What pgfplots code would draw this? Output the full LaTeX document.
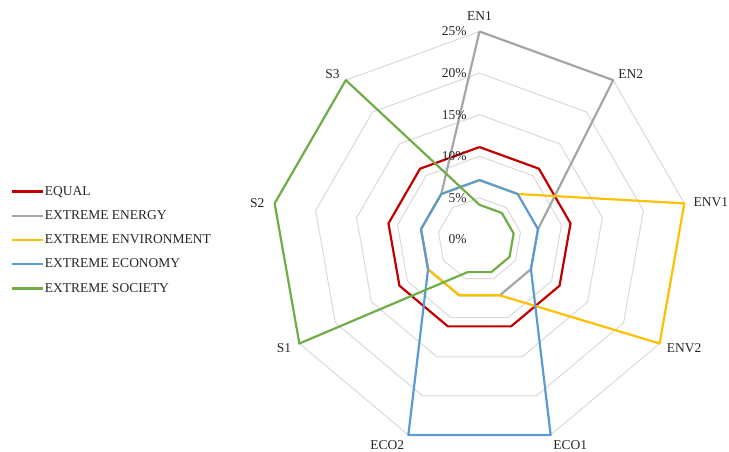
\documentclass[border=0pt]{standalone}
\usepackage{fontspec}
\setmainfont{Liberation Serif}
\usepackage{pgfplots}
\usepackage{pgfplotstable}
\pgfplotsset{compat=1.18}

\definecolor{cEqual}{HTML}{C00000}
\definecolor{cEnergy}{HTML}{A5A5A5}
\definecolor{cEnv}{HTML}{FFC000}
\definecolor{cEco}{HTML}{5B9BD5}
\definecolor{cSoc}{HTML}{70AD47}
\definecolor{cGrid}{HTML}{D9D9D9}
\definecolor{cText}{HTML}{262626}

% Criterion weights in percent, one row per radar axis (angle in degrees).
% The first axis is repeated at the end so that each polygon closes.
\pgfplotstableread{
ang   EQ     EN     ENV    ECO    SOC
90    11.11  25.00  7.14   7.14   4.17
50    11.11  25.00  7.14   7.14   4.17
10    11.11  7.14   25.00  7.14   4.17
-30   11.11  7.14   25.00  7.14   4.17
-70   11.11  7.14   7.14   25.00  4.17
-110  11.11  7.14   7.14   25.00  4.17
-150  11.11  7.14   7.14   7.14   25.00
-190  11.11  7.14   7.14   7.14   25.00
-230  11.11  7.14   7.14   7.14   25.00
-270  11.11  25.00  7.14   7.14   4.17
}\weights

% Rings of the radial grid
\pgfplotstableread{
ang   r5  r10  r15  r20  r25
90    5   10   15   20   25
50    5   10   15   20   25
10    5   10   15   20   25
-30   5   10   15   20   25
-70   5   10   15   20   25
-110  5   10   15   20   25
-150  5   10   15   20   25
-190  5   10   15   20   25
-230  5   10   15   20   25
-270  5   10   15   20   25
}\rings

\newcommand{\chartfont}{\fontsize{13.5bp}{16bp}\selectfont}

\begin{document}
\begin{tikzpicture}[font=\chartfont]
\path[use as bounding box] (-479.5bp,-212.5bp) rectangle (249.5bp,239.5bp);
\begin{axis}[
  at={(0,0)}, anchor=origin,
  x=8.32bp, y=8.32bp,
  xmin=-25, xmax=25, ymin=-25, ymax=25,
  hide axis, clip=false,
  every axis plot/.append style={data cs=polar, line join=round, mark=none, line width=2.2bp},
  legend cell align=left,
  legend image code/.code={\draw[#1] (0bp,0bp) -- (31bp,0bp);},
  legend style={
    at={(-0.6262,0.4988)}, anchor=west,
    draw=none, fill=none, inner sep=0pt,
    font=\chartfont, text=cText,
    row sep=13.8bp, column sep=0.5bp,
    nodes={inner sep=0pt},
  },
]
% grid rings
\addplot[cGrid, line width=1bp, forget plot] table[x=ang, y=r5]  {\rings};
\addplot[cGrid, line width=1bp, forget plot] table[x=ang, y=r10] {\rings};
\addplot[cGrid, line width=1bp, forget plot] table[x=ang, y=r15] {\rings};
\addplot[cGrid, line width=1bp, forget plot] table[x=ang, y=r20] {\rings};
\addplot[cGrid, line width=1bp, forget plot] table[x=ang, y=r25] {\rings};

% weighting scenarios
\addplot[cEqual]  table[x=ang, y=EQ]  {\weights};
\addlegendentry{EQUAL}
\addplot[cEnergy] table[x=ang, y=EN]  {\weights};
\addlegendentry{EXTREME ENERGY}
\addplot[cEnv]    table[x=ang, y=ENV] {\weights};
\addlegendentry{EXTREME ENVIRONMENT}
\addplot[cEco]    table[x=ang, y=ECO] {\weights};
\addlegendentry{EXTREME ECONOMY}
\addplot[cSoc]    table[x=ang, y=SOC] {\weights};
\addlegendentry{EXTREME SOCIETY}

% radial scale labels
\tikzset{lbl/.style={inner sep=0pt, text=cText, font=\chartfont}}
\node[lbl, anchor=east, xshift=-12.8bp] at (axis cs:0,0)  {0\%};
\node[lbl, anchor=east, xshift=-12.8bp] at (axis cs:0,5)  {5\%};
\node[lbl, anchor=east, xshift=-12.8bp] at (axis cs:0,10) {10\%};
\node[lbl, anchor=east, xshift=-12.8bp] at (axis cs:0,15) {15\%};
\node[lbl, anchor=east, xshift=-12.8bp] at (axis cs:0,20) {20\%};
\node[lbl, anchor=east, xshift=-12.8bp] at (axis cs:0,25) {25\%};
% axis names, placed just outside the outer ring
\node[lbl, anchor=south, yshift=11bp] at (axis cs:0,25) {EN1};
\node[lbl, anchor=south west, xshift=5bp, yshift=1.7bp] at (axis cs:16.07,19.15) {EN2};
\node[lbl, anchor=west, xshift=9bp, yshift=1bp] at (axis cs:24.62,4.34) {ENV1};
\node[lbl, anchor=west, xshift=7bp, yshift=-4.4bp] at (axis cs:21.65,-12.5) {ENV2};
\node[lbl, anchor=north west, xshift=2.5bp, yshift=-5bp] at (axis cs:8.55,-23.49) {ECO1};
\node[lbl, anchor=north east, xshift=-4bp, yshift=-5bp] at (axis cs:-8.55,-23.49) {ECO2};
\node[lbl, anchor=east, xshift=-8bp, yshift=-4.4bp] at (axis cs:-21.65,-12.5) {S1};
\node[lbl, anchor=east, xshift=-10bp] at (axis cs:-24.62,4.34) {S2};
\node[lbl, anchor=south east, xshift=-6bp, yshift=1.7bp] at (axis cs:-16.07,19.15) {S3};
\end{axis}
\end{tikzpicture}
\end{document}
